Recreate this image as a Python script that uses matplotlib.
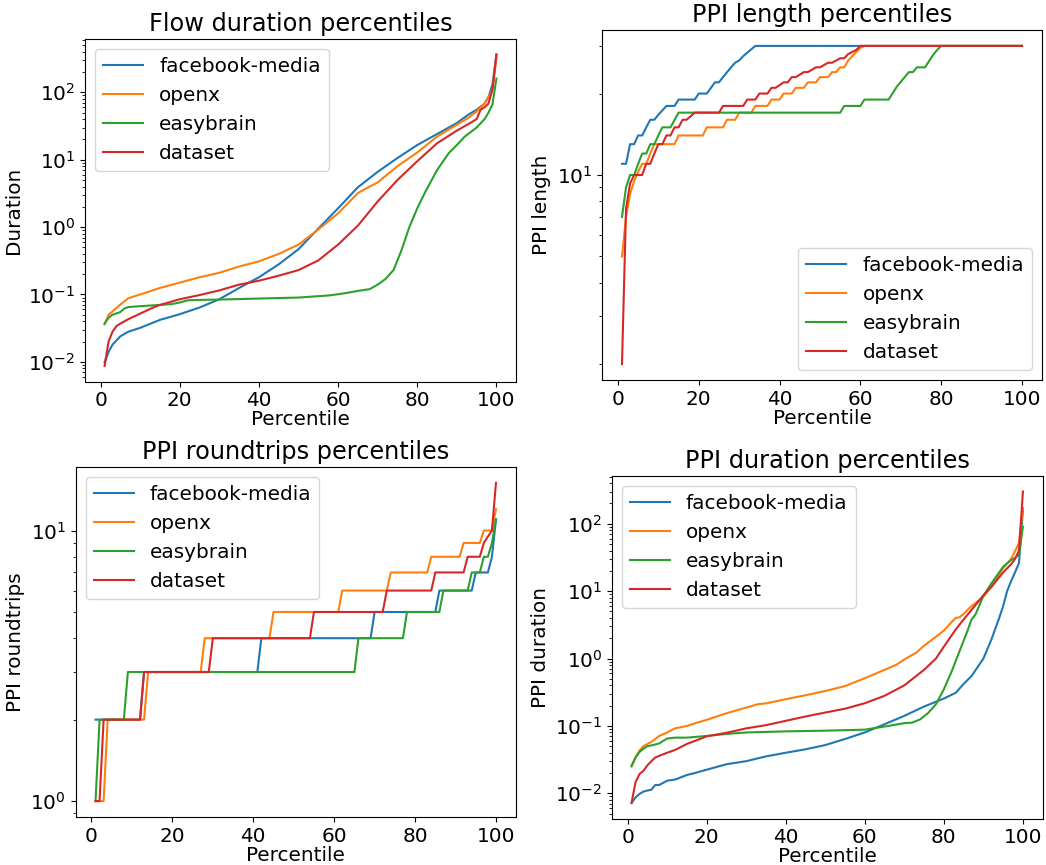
import matplotlib
matplotlib.use("Agg")
import matplotlib.pyplot as plt

plt.rcParams['font.size'] = 14.4

names = ['facebook-media', 'openx', 'easybrain', 'dataset']

# Flow duration percentiles (top left)
flow_fb_x = [1, 2, 3, 5, 7, 10, 15, 20, 25, 30, 35, 40, 45, 50, 55, 60, 65, 70, 75, 80, 85, 90, 93, 95, 97, 98, 99, 100]
flow_fb_y = [0.0098, 0.014, 0.018, 0.024, 0.028, 0.032, 0.042, 0.051, 0.064, 0.085, 0.125, 0.18, 0.28, 0.47, 0.95, 1.9,
             3.9, 6.6, 10.6, 16.5, 24, 35, 47, 55, 68, 85, 130, 363]
flow_ox_x = [1, 2, 3, 5, 7, 10, 15, 20, 25, 30, 35, 40, 45, 50, 55, 60, 65, 68, 70, 75, 80, 85, 90, 93, 95, 97, 98, 99, 100]
flow_ox_y = [0.036, 0.050, 0.056, 0.071, 0.088, 0.10, 0.125, 0.15, 0.18, 0.21, 0.26, 0.31, 0.40, 0.55, 0.92, 1.6,
             3.2, 4.0, 4.6, 8.0, 12.8, 22, 33, 42, 52, 68, 85, 110, 322]
flow_eb_x = [1, 2, 3, 5, 6, 7, 10, 15, 18, 20, 22, 25, 30, 40, 50, 58, 62, 65, 68, 70, 72, 74, 76, 78, 80, 82, 85,
             88, 90, 92, 95, 97, 98, 99, 100]
flow_eb_y = [0.037, 0.045, 0.050, 0.055, 0.062, 0.065, 0.067, 0.070, 0.072, 0.076, 0.082, 0.083, 0.084, 0.087, 0.090,
             0.097, 0.105, 0.113, 0.12, 0.14, 0.17, 0.23, 0.45, 1.0, 1.9, 3.3, 7.0, 12.6, 16.5, 22, 30, 40, 50, 66, 160]
flow_ds_x = [1, 2, 3, 4, 5, 7, 10, 13, 15, 20, 25, 30, 35, 40, 45, 50, 55, 60, 65, 70, 75, 80, 85, 90, 93, 95, 96,
             97, 98, 99, 100]
flow_ds_y = [0.0087, 0.020, 0.028, 0.034, 0.037, 0.043, 0.052, 0.063, 0.070, 0.085, 0.098, 0.115, 0.14, 0.16, 0.19,
             0.23, 0.32, 0.55, 1.05, 2.4, 5.0, 9.5, 17.5, 27, 34, 40, 55, 60, 68, 110, 363]

# PPI length percentiles (top right)
len_fb_x = [1, 2, 3, 4, 5, 6, 7, 8, 9, 10, 12, 14, 15, 19, 20, 22, 24, 25, 26, 27, 28, 29, 30, 31, 34, 100]
len_fb_y = [11, 11, 13, 13, 14, 14, 15, 16, 16, 16.7, 18, 18, 19, 19, 20, 20, 22, 22, 23, 24, 25, 26, 26.5, 27.5, 30, 30]
len_ox_x = [1, 2, 3, 4, 5, 6, 7, 8, 9, 14, 15, 21, 22, 26, 27, 29, 30, 33, 34, 37, 38, 40, 41, 43, 44, 46, 47, 49,
            50, 52, 53, 54, 55, 56, 57, 58, 59, 60, 61, 100]
len_ox_y = [5, 7, 8.5, 9.5, 10.3, 11, 11, 12, 13, 13, 14, 14, 15, 15, 16, 16, 17, 17, 18, 18, 19, 19, 20, 20, 21, 21,
            22, 22, 23, 23, 24, 24, 25, 25, 26.5, 27.5, 28.5, 29.5, 30, 30]
len_eb_x = [1, 2, 3, 4, 5, 6, 7, 8, 9, 10, 11, 13, 15, 55, 56, 60, 61, 67, 69, 72, 73, 74, 76, 78, 79, 80, 100]
len_eb_y = [7, 9, 10, 10, 11, 12, 12, 13, 13, 14, 15, 15, 17, 17, 18, 18, 19, 19, 21.2, 24, 24, 25, 25, 27.8, 29, 30, 30]
len_ds_x = [1, 2, 3, 4, 6, 7, 8, 9, 10, 11, 12, 13, 14, 15, 16, 17, 19, 25, 26, 31, 32, 34, 35, 37, 38, 39, 41, 42,
            43, 44, 46, 47, 49, 50, 52, 53, 55, 56, 57, 58, 59, 60, 100]
len_ds_y = [2, 7.5, 9.3, 10, 10, 11, 11, 12, 13, 13, 14, 14, 15, 15, 16, 16, 17, 17, 18, 18, 19, 19, 20, 20, 21, 21,
            22, 22, 23, 23, 24, 24, 25, 25, 26, 26, 27, 27, 28, 28.5, 29, 30, 30]

# PPI roundtrips percentiles (bottom left)
rt_fb_x = [1, 12, 13, 41, 42, 69, 70, 85, 86, 94, 95, 98, 99, 100]
rt_fb_y = [2, 2, 3, 3, 4, 4, 5, 5, 6, 6, 7, 7, 8, 11]
rt_ox_x = [1, 3, 4, 13, 14, 27, 28, 44, 45, 61, 62, 73, 74, 83, 84, 91, 92, 96, 97, 99, 100]
rt_ox_y = [1, 1, 2, 2, 3, 3, 4, 4, 5, 5, 6, 6, 7, 7, 8, 8, 9, 9, 10, 10, 12]
rt_eb_x = [1, 2, 8, 9, 65, 66, 77, 78, 86, 87, 93, 94, 96, 97, 98, 99, 100]
rt_eb_y = [1, 2, 2, 3, 3, 4, 4, 5, 5, 6, 6, 7, 7, 8, 8, 9, 11]
rt_ds_x = [1, 2, 3, 12, 13, 29, 30, 54, 55, 72, 73, 84, 85, 92, 93, 96, 97, 98, 99, 100]
rt_ds_y = [1, 1, 2, 2, 3, 3, 4, 4, 5, 5, 6, 6, 7, 7, 8, 8, 9, 9.5, 10, 15]

# PPI duration percentiles (bottom right)
dur_fb_x = [1, 2, 3, 4, 5, 6, 7, 8, 10, 12, 15, 17, 20, 25, 30, 35, 40, 45, 50, 55, 60, 65, 70, 75, 80, 83, 85, 87,
            90, 92, 94, 95, 96, 97, 98, 99, 100]
dur_fb_y = [0.0072, 0.0087, 0.0098, 0.0106, 0.011, 0.0113, 0.0133, 0.0133, 0.0154, 0.016, 0.0187, 0.020, 0.0224,
            0.027, 0.030, 0.0353, 0.040, 0.045, 0.052, 0.064, 0.080, 0.106, 0.141, 0.194, 0.255, 0.31, 0.42, 0.55,
            1.0, 1.9, 4.0, 6.0, 10, 14, 19, 26, 160]
dur_ox_x = [1, 2, 3, 4, 5, 6, 7, 8, 10, 12, 15, 18, 20, 25, 30, 33, 35, 40, 45, 50, 55, 60, 65, 68, 70, 73, 75, 78,
            80, 82, 83, 84, 85, 87, 90, 92, 95, 97, 98, 99, 100]
dur_ox_y = [0.026, 0.034, 0.043, 0.050, 0.054, 0.058, 0.064, 0.071, 0.080, 0.092, 0.10, 0.114, 0.123, 0.154, 0.187,
            0.21, 0.216, 0.249, 0.285, 0.33, 0.39, 0.51, 0.68, 0.81, 0.97, 1.22, 1.55, 2.1, 2.6, 3.5, 4.0, 4.1, 4.6,
            6.0, 8.2, 11.8, 22, 30, 39, 52, 172]
dur_eb_x = [1, 2, 3, 4, 5, 7, 8, 9, 10, 12, 15, 20, 25, 30, 40, 50, 60, 66, 70, 72, 74, 76, 78, 80, 82, 84, 86, 87,
            88, 90, 92, 95, 97, 98, 99, 100]
dur_eb_y = [0.025, 0.034, 0.041, 0.046, 0.050, 0.053, 0.055, 0.060, 0.065, 0.067, 0.067, 0.071, 0.076, 0.080, 0.083,
            0.085, 0.088, 0.10, 0.11, 0.112, 0.125, 0.155, 0.21, 0.35, 0.65, 1.3, 2.6, 3.8, 4.5, 8.5, 13, 23, 29, 31,
            35, 90]
dur_ds_x = [1, 2, 3, 4, 5, 6, 7, 8, 10, 12, 15, 20, 25, 30, 35, 40, 45, 50, 55, 60, 65, 70, 75, 78, 80, 83, 85, 88,
            90, 92, 95, 97, 98, 99, 100]
dur_ds_y = [0.0072, 0.0146, 0.0193, 0.0216, 0.026, 0.030, 0.034, 0.036, 0.040, 0.044, 0.054, 0.070, 0.079, 0.092,
            0.1026, 0.119, 0.138, 0.158, 0.18, 0.217, 0.28, 0.40, 0.68, 1.0, 1.5, 2.7, 3.8, 6.2, 8.7, 11.5, 19, 25,
            30, 40, 300]

panels = [
    ('Flow duration percentiles', 'Duration', 'upper left',
     [(flow_fb_x, flow_fb_y), (flow_ox_x, flow_ox_y), (flow_eb_x, flow_eb_y), (flow_ds_x, flow_ds_y)],
     [85, 39, 516, 381.5]),
    ('PPI length percentiles', 'PPI length', 'lower right',
     [(len_fb_x, len_fb_y), (len_ox_x, len_ox_y), (len_eb_x, len_eb_y), (len_ds_x, len_ds_y)],
     [602, 30, 1042, 380]),
    ('PPI roundtrips percentiles', 'PPI roundtrips', 'upper left',
     [(rt_fb_x, rt_fb_y), (rt_ox_x, rt_ox_y), (rt_eb_x, rt_eb_y), (rt_ds_x, rt_ds_y)],
     [75.5, 467, 516, 817]),
    ('PPI duration percentiles', 'PPI duration', 'upper left',
     [(dur_fb_x, dur_fb_y), (dur_ox_x, dur_ox_y), (dur_eb_x, dur_eb_y), (dur_ds_x, dur_ds_y)],
     [612, 476, 1042.5, 818.5]),
]

W, H = 1046, 865
fig = plt.figure(figsize=(W / 100, H / 100), dpi=100)

for title, ylabel, loc, series, (l, t, r, b) in panels:
    ax = fig.add_axes([l / W, (H - b) / H, (r - l) / W, (b - t) / H])
    for name, (xs, ys) in zip(names, series):
        ax.plot(xs, ys, label=name)
    ax.set_yscale('log')
    ax.set_title(title)
    ax.set_xlabel('Percentile', labelpad=0)
    ax.set_ylabel(ylabel)
    ax.legend(loc=loc)

fig.savefig('out.png', dpi=100)
